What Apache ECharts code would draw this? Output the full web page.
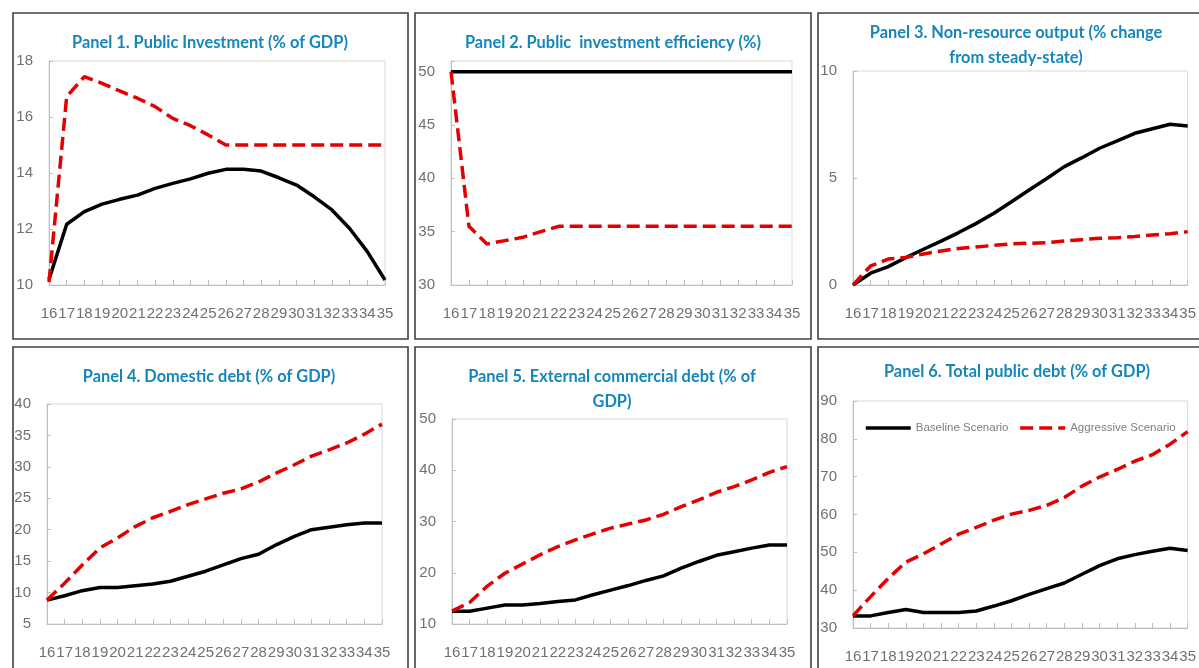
<!DOCTYPE html>
<html><head><meta charset="utf-8">
<script src="https://cdn.jsdelivr.net/npm/echarts@6/dist/echarts.min.js"></script>
<style>html,body{margin:0;padding:0;background:#fff}#c{width:1199px;height:668px}</style>
</head><body><div id="c"></div>
<script>
// ---- data ----
const years = ['16','17','18','19','20','21','22','23','24','25','26','27','28','29','30','31','32','33','34','35'];
const seriesNames = ['Baseline Scenario', 'Aggressive Scenario'];
const titles = [
  'Panel 1. Public Investment (% of GDP)',
  'Panel 2. Public  investment efficiency (%)',
  'Panel 3. Non-resource output (% change\nfrom steady-state)',
  'Panel 4. Domestic debt (% of GDP)',
  'Panel 5. External commercial debt (% of\nGDP)',
  'Panel 6. Total public debt (% of GDP)'
];
const p1Base = [10.2, 12.17, 12.62, 12.89, 13.06, 13.21, 13.45, 13.63, 13.79, 13.99, 14.13, 14.13, 14.07, 13.83, 13.57, 13.15, 12.68, 12.02, 11.19, 10.18];
const p1Aggr = [10.1, 16.73, 17.44, 17.2, 16.93, 16.67, 16.37, 15.95, 15.69, 15.36, 15.0, 15.0, 15.0, 15.0, 15.0, 15.0, 15.0, 15.0, 15.0, 15.0];
const p2Base = [50, 50, 50, 50, 50, 50, 50, 50, 50, 50, 50, 50, 50, 50, 50, 50, 50, 50, 50, 50];
const p2Aggr = [50, 35.5, 33.84, 34.16, 34.47, 35.0, 35.5, 35.5, 35.5, 35.5, 35.5, 35.5, 35.5, 35.5, 35.5, 35.5, 35.5, 35.5, 35.5, 35.5];
const p3Base = [0, 0.55, 0.86, 1.28, 1.67, 2.05, 2.45, 2.88, 3.35, 3.89, 4.44, 4.98, 5.53, 5.95, 6.39, 6.73, 7.09, 7.3, 7.51, 7.43];
const p3Aggr = [0, 0.89, 1.21, 1.29, 1.45, 1.59, 1.71, 1.78, 1.85, 1.92, 1.95, 1.98, 2.06, 2.12, 2.18, 2.21, 2.27, 2.34, 2.4, 2.49];
const p4Base = [8.8, 9.5, 10.3, 10.8, 10.8, 11.1, 11.36, 11.8, 12.6, 13.4, 14.4, 15.4, 16.1, 17.6, 18.9, 20.0, 20.4, 20.8, 21.07, 21.07];
const p4Aggr = [8.8, 11.5, 14.4, 17.1, 18.7, 20.5, 21.9, 22.9, 24.0, 24.9, 25.8, 26.5, 27.6, 29.0, 30.3, 31.7, 32.7, 33.8, 35.2, 36.8];
const p5Base = [12.5, 12.5, 13.1, 13.7, 13.7, 14.0, 14.4, 14.7, 15.7, 16.6, 17.5, 18.5, 19.4, 20.9, 22.2, 23.4, 24.1, 24.8, 25.4, 25.4];
const p5Aggr = [12.5, 14.2, 17.4, 19.9, 21.7, 23.5, 25.1, 26.4, 27.6, 28.7, 29.5, 30.3, 31.4, 32.9, 34.2, 35.7, 36.8, 38.1, 39.6, 40.7];
const p6Base = [33.2, 33.2, 34.1, 34.9, 34.1, 34.1, 34.1, 34.5, 35.8, 37.2, 38.9, 40.4, 41.9, 44.2, 46.5, 48.3, 49.4, 50.3, 51.1, 50.5];
const p6Aggr = [33.2, 38.3, 43.1, 47.4, 49.6, 52.2, 54.8, 56.6, 58.5, 60.1, 61.1, 62.4, 64.5, 67.5, 69.9, 71.9, 74.1, 75.8, 78.6, 81.9];
const yMins = [10, 30, 0, 5, 10, 30];
const yMaxs = [18, 51, 10, 40, 50, 90];
const yIntervals = [2, 5, 5, 5, 10, 10];
const baseData = [p1Base, p2Base, p3Base, p4Base, p5Base, p6Base];
const aggrData = [p1Aggr, p2Aggr, p3Aggr, p4Aggr, p5Aggr, p6Aggr];

// ---- layout ----
const grids = [
  {left: 49, top: 61, width: 336, height: 224},
  {left: 451, top: 61, width: 341, height: 224},
  {left: 853, top: 71, width: 342, height: 214},
  {left: 47, top: 404, width: 335, height: 220},
  {left: 452, top: 419, width: 335, height: 205},
  {left: 853, top: 401, width: 342, height: 227}
];
const titlePos = [[210, 30.5], [613, 30.5], [1016, 20.5], [209, 364.5], [612, 364.5], [1017, 359.5]];
const boxes = [[13, 13, 395, 326], [415, 13, 396, 326], [818, 13, 400, 326],
               [13, 347, 395, 340], [415, 347, 396, 340], [818, 347, 400, 340]];

const TITLE_FONT = "Lato, 'Noto Sans', sans-serif";
const AXIS_FONT = "'Liberation Sans', Arial, sans-serif";
const GRAY = '#707070';
const RED = '#E30000';

// fit the title font so that panel 1's title spans ~276px as in the original
const ctx = document.createElement('canvas').getContext('2d');
ctx.font = 'bold 20px ' + TITLE_FONT;
const titleSize = Math.max(12, Math.min(18, 20 * 276 / ctx.measureText(titles[0]).width));

const option = {
  animation: false,
  backgroundColor: '#fff',
  title: titles.map((t, i) => ({
    text: t, left: titlePos[i][0], top: titlePos[i][1], textAlign: 'center', padding: 0,
    textStyle: {fontFamily: TITLE_FONT, fontWeight: 'bold', fontSize: titleSize, color: '#1486B9', lineHeight: 25}
  })),
  legend: {
    orient: 'horizontal', left: 864, top: 422, width: 400, padding: 0,
    itemWidth: 45, itemHeight: 12, itemGap: 10,
    data: seriesNames,
    textStyle: {fontFamily: AXIS_FONT, fontSize: 11.5, color: '#808080'},
    itemStyle: {opacity: 0, color: 'transparent', borderWidth: 0},
    lineStyle: {width: 3.5}
  },
  graphic: boxes.map(b => ({
    type: 'rect', silent: true, z: -1,
    shape: {x: b[0], y: b[1], width: b[2], height: b[3]},
    style: {fill: 'none', stroke: '#404040', lineWidth: 1.6}
  })),
  grid: grids.map(g => Object.assign({show: true, borderColor: '#d9d9d9', borderWidth: 1, backgroundColor: 'transparent'}, g)),
  xAxis: grids.map((g, i) => ({
    type: 'category', gridIndex: i, data: years, boundaryGap: false,
    axisLine: {lineStyle: {color: '#bfbfbf', width: 1}},
    axisTick: {inside: true, length: 5, interval: 0, lineStyle: {color: '#bfbfbf'}},
    axisLabel: {interval: 0, margin: 21, fontFamily: AXIS_FONT, fontSize: 15, color: GRAY},
    splitLine: {show: false}
  })),
  yAxis: grids.map((g, i) => ({
    type: 'value', gridIndex: i, min: yMins[i], max: yMaxs[i], interval: yIntervals[i],
    axisLine: {show: true, lineStyle: {color: '#bfbfbf', width: 1}},
    axisTick: {show: true, inside: true, length: 4, lineStyle: {color: '#bfbfbf'}},
    axisLabel: {margin: 16, fontFamily: AXIS_FONT, fontSize: 15, color: GRAY,
      formatter: v => (v % yIntervals[i] === 0 ? String(v) : '')},
    splitLine: {show: false}
  })),
  series: []
};
for (let i = 0; i < 6; i++) {
  option.series.push({
    name: seriesNames[0], type: 'line', xAxisIndex: i, yAxisIndex: i, data: baseData[i],
    symbol: 'none', lineStyle: {color: '#000', width: 3.5}, itemStyle: {color: '#000'}, z: 3
  });
  option.series.push({
    name: seriesNames[1], type: 'line', xAxisIndex: i, yAxisIndex: i, data: aggrData[i],
    symbol: 'none', lineStyle: {color: RED, width: 3.5, type: [13, 6]}, itemStyle: {color: RED}, z: 4
  });
}
const chart = echarts.init(document.getElementById('c'), null, {renderer: 'canvas'});
chart.setOption(option);
</script>
</body></html>
